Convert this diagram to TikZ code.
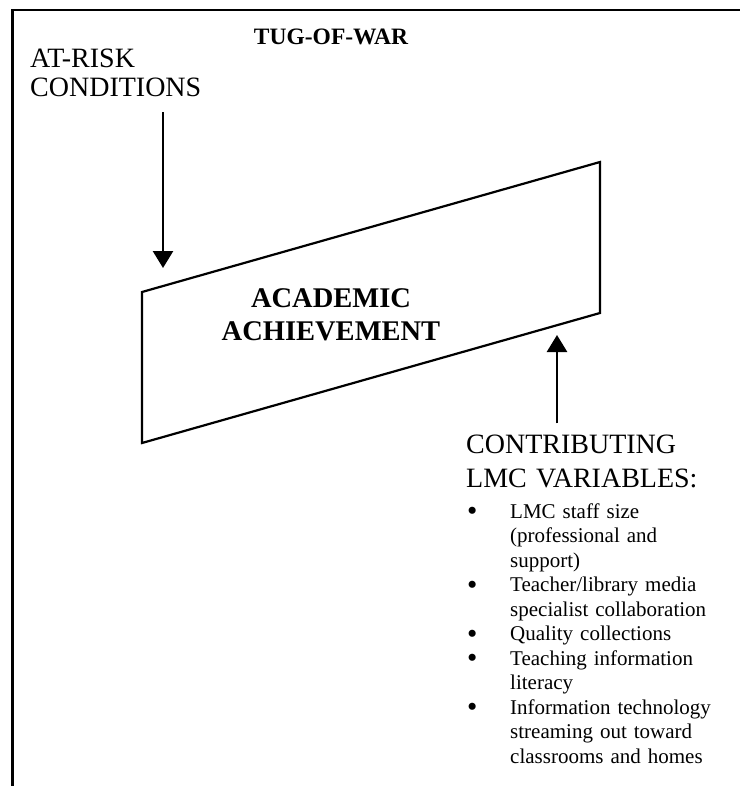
\documentclass[tikz,border=0pt]{standalone}
\usepackage{fontspec}
\setmainfont{Liberation Serif}
\usetikzlibrary{arrows.meta,positioning}
\newcommand{\lmcitem}[1]{\hangindent=44pt\hangafter=1\noindent\makebox[44pt][l]{\hspace{1pt}\raisebox{-2.5pt}{\scalebox{1.4}{\textbullet}}}#1\par}

\begin{document}
\begin{tikzpicture}[x=1pt,y=-1pt,>={Triangle[width=20pt,length=17pt]},
  plain/.style={inner sep=0pt,anchor=base west,align=left},
  push/.style={->,line width=2.6pt}]
\useasboundingbox (0,0) rectangle (740,786);
% frame, open on the right and at the bottom
\draw[line width=2.8pt] (12.5,786) -- (12.5,10) -- (740,10);
% title
\node[inner sep=0pt,anchor=base,font=\fontsize{23.5}{28}\selectfont\bfseries] (title) at (331,45) {TUG-OF-WAR};
% pull from above
\node[plain,text width=200pt,font=\fontsize{28}{29}\selectfont] (risk) at (30,68) {AT-RISK\\CONDITIONS};
% the slanted block
\coordinate (pTL) at (142,292);
\coordinate (pTR) at (600,162);
\coordinate (pBR) at (600,313);
\coordinate (pBL) at (142,443);
\draw[line width=2.2pt,line join=miter] (pTL) -- (pTR) -- (pBR) -- (pBL) -- cycle;
\node[inner sep=0pt,anchor=base,text width=280pt,align=center,
  font=\fontsize{28.5}{33}\selectfont\bfseries] (achieve) at (331,307) {ACADEMIC\\ACHIEVEMENT};
% pull from below
\node[plain,text width=260pt,font=\fontsize{28}{34}\selectfont] (lmc) at (466,453) {CONTRIBUTING\\LMC VARIABLES:};
\node[plain,text width=270pt,font=\fontsize{21}{24.5}\selectfont] (vars) at (466,518) {%
  \lmcitem{LMC staff size\newline(professional and\newline support)}%
  \lmcitem{Teacher/library media\newline specialist collaboration}%
  \lmcitem{Quality collections}%
  \lmcitem{Teaching information\newline literacy}%
  \lmcitem{Information technology\newline streaming out toward\newline classrooms and homes}};
% arrows
\coordinate (risktip) at (163,268);
\coordinate (lmctip) at (557,335);
\draw[push] ([yshift=-15pt]risk.south -| risktip) -- (risktip);
\draw[push] ([yshift=11pt]lmc.north -| lmctip) -- (lmctip);
\end{tikzpicture}
\end{document}
